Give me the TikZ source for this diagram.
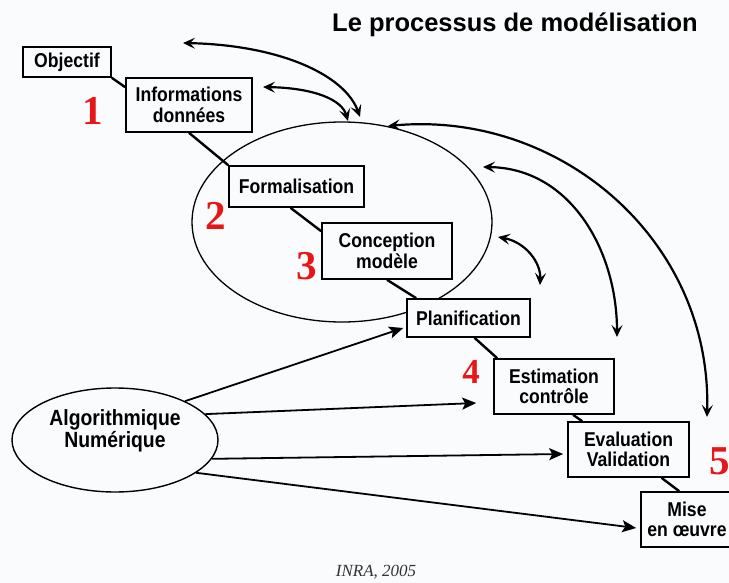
\documentclass[tikz,border=0pt]{standalone}
\usepackage{fontspec}
\setmainfont{Liberation Sans}
\newfontfamily\boxfont{Liberation Sans}[FakeStretch=0.88]
\newfontfamily\numfont{Liberation Serif}
\usetikzlibrary{arrows.meta,shapes.geometric,calc}
\definecolor{bg}{RGB}{249,251,252}
\definecolor{numred}{RGB}{232,22,22}
\begin{document}
\begin{tikzpicture}[x=1pt,y=-1pt,
  box/.style={draw, line width=1.6pt, fill=bg, inner sep=0pt, align=center,
    font=\fontsize{20}{20.5}\selectfont\boxfont\bfseries},
  link/.style={line width=2.4pt},
  feedback/.style={line width=2.2pt,
    {Stealth[length=12pt,width=11pt,inset=5pt]}-{Stealth[length=12pt,width=11pt,inset=5pt]}},
  tool/.style={line width=1.8pt, -{Stealth[length=14pt,width=12pt,inset=3pt]}},
  stepnum/.style={text=numred, inner sep=0pt, font=\fontsize{41}{41}\selectfont\numfont\bfseries},
]
\useasboundingbox (0,0) rectangle (729,583);
\fill[bg] (0,0) rectangle (729,583);

% title
\node[font=\fontsize{25.5}{30}\selectfont\bfseries] (title) at (515,25) {Le processus de modélisation};

% big ellipse (formalisation / conception)
\node[draw, ellipse, line width=1.3pt, minimum width=300pt, minimum height=200pt, inner sep=0pt] (bigell) at (342,222) {};

% numerics ellipse
\node[draw, ellipse, line width=1.4pt, minimum width=206pt, minimum height=104pt, inner sep=0pt] (alg) at (115,440) {};
\node[align=center, inner sep=0pt, font=\fontsize{22}{22}\selectfont\boxfont\bfseries] (algtxt) at (115,431) {Algorithmique\\Numérique};

% boxes
\node[box, minimum width=88pt,  minimum height=30pt] (obj)  at (67,62)      {Objectif};
\node[box, minimum width=126pt, minimum height=54pt] (info) at (189,105)    {Informations\\données};
\node[box, minimum width=135pt, minimum height=41pt] (form) at (296.5,186.5){Formalisation};
\node[box, minimum width=130pt, minimum height=56pt] (conc) at (387,251)    {Conception\\modèle};
\node[box, minimum width=123pt, minimum height=38pt] (plan) at (468.5,318)  {Planification};
\node[box, minimum width=120pt, minimum height=55pt] (est)  at (554,386.5)  {Estimation\\contrôle};
\node[box, minimum width=121pt, minimum height=55pt] (eval) at (628.5,449.5){Evaluation\\Validation};
\node[box, minimum width=92pt,  minimum height=55pt] (mise) at (687,519.5)  {Mise\\en œuvre};

% staircase links
\draw[link] (obj.south east) -- ($(info.north west)+(0,10)$);
\draw[link] (info.south) -- (form.north west);
\draw[link] ($(form.south)+(-6,0)$) -- ($(conc.north west)+(0,9)$);
\draw[link] (conc.south) -- ($(plan.north west)+(10,0)$);
\draw[link] ($(plan.south)+(6,0)$) -- ($(est.north west)+(4,0)$);
\draw[link] ($(est.south)+(19,0)$) -- ($(eval.north west)+(15,0)$);
\draw[link] ($(eval.south)+(33,0)$) -- ($(mise.north west)+(39,0)$);

% step numbers
\node[stepnum] (n1) at (93,111) {1};
\node[stepnum] (n2) at (216,216) {2};
\node[stepnum] (n3) at (307,266) {3};
\node[stepnum, font=\fontsize{35}{35}\selectfont\numfont\bfseries] (n4) at (471,372) {4};
\node[stepnum] (n5) at (720,461) {5};

% feedback arrows
\coordinate (fa1) at (183,43);  \coordinate (fb1) at (360,117);
\coordinate (fa2) at (263,87);  \coordinate (fb2) at (348,121);
\coordinate (fa3) at (388,126); \coordinate (fb3) at (707,417);
\coordinate (fa4) at (483,167); \coordinate (fb4) at (617,337);
\coordinate (fa5) at (498,237); \coordinate (fb5) at (540,285);
\draw[feedback] (fa1) .. controls (280,45) and (345,75) .. (fb1);
\draw[feedback] (fa2) .. controls (315,88) and (342,100) .. (fb2);
\draw[feedback] (fa3) .. controls (560,110) and (712,240) .. (fb3);
\draw[feedback] (fa4) .. controls (570,168) and (617,250) .. (fb4);
\draw[feedback] (fa5) .. controls (525,242) and (541,262) .. (fb5);

% tool arrows from numerics
\draw[tool] (alg.29) -- ($(plan.west)+(-3,10)$);
\draw[tool] (alg.16) -- ($(est.west)+(-17,16.5)$);
\draw[tool] (alg.-11) -- ($(eval.west)+(-4,4.5)$);
\draw[tool] (alg.-22) -- ($(mise.west)+(-4,8.5)$);

% caption
\node[font=\fontsize{17}{20}\selectfont\numfont\itshape, text=black!80] (cap) at (376,572) {INRA, 2005};
\end{tikzpicture}
\end{document}
